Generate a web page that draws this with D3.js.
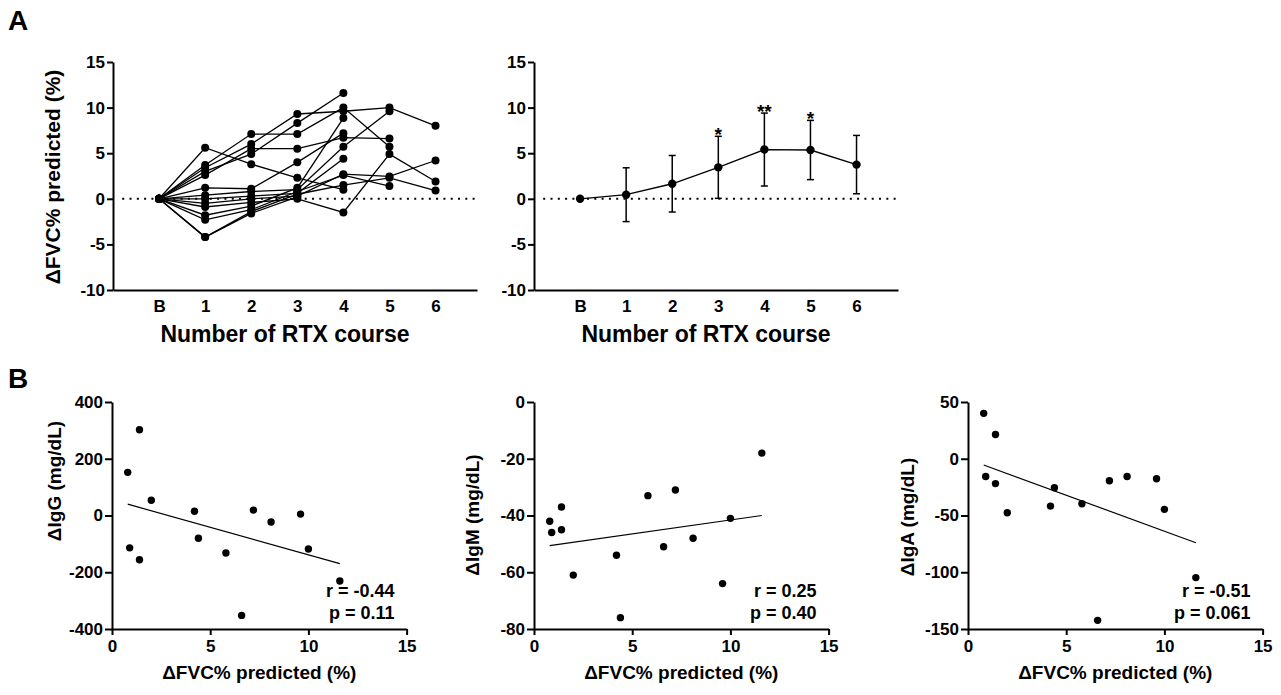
<!DOCTYPE html>
<html>
<head>
<meta charset="utf-8">
<script src="https://cdn.jsdelivr.net/npm/d3@7"></script>
<style>
  body { margin: 0; background: #fff; }
  svg text { font-family: "Liberation Sans", Arial, sans-serif; font-weight: bold; fill: #000; }
</style>
</head>
<body>
<svg id="fig" width="1281" height="695"></svg>
<script>
// ---- data ----
var courses = ["B", "1", "2", "3", "4", "5", "6"];
var yTicksA = [-10, -5, 0, 5, 10, 15];

// individual patients: change at B, course 1..6 (null = course not given)
var patients = [
  [0,  5.6,  3.8, 2.3,  1.0, null, null],
  [0,  3.7,  7.1, 7.1, 10.0,  5.7, null],
  [0,  3.4,  6.0, 9.3,  9.6, 10.0,  8.0],
  [0,  3.0,  4.9, 8.3, 11.6, null, null],
  [0,  2.6,  5.5, 5.5,  6.7,  6.6, null],
  [0,  1.2,  1.1, 4.0,  7.2, null, null],
  [0,  0.4,  0.8, 1.0,  5.7,  9.6, null],
  [0,  0.0,  0.3, 0.6,  4.4, null, null],
  [0, -0.5,  0.0, 0.3,  2.7,  2.45, 4.2],
  [0, -0.9, -0.4, 0.0, -1.5,  4.9,  1.9],
  [0, -1.8, -0.8, 1.2,  8.85, null, null],
  [0, -2.3, -1.2, 0.8,  2.6,  1.4, null],
  [0, -4.2, -1.4, 0.5,  1.5,  2.3,  0.9],
  [0, -4.2, -1.6, 0.2, null, null, null]
];

// group mean and SD per course
var meanChange = [0, 0.45, 1.65, 3.45, 5.4, 5.35, 3.75];
var sdChange   = [0, 2.95, 3.1, 3.4, 4.0, 3.25, 3.2];
var stars      = ["", "", "", "*", "**", "*", ""];

// panel B: change in FVC% predicted vs change in immunoglobulins
var dFVC = [0.8, 0.9, 1.4, 1.4, 2.0, 4.2, 4.4, 5.8, 6.6, 7.2, 8.1, 9.6, 10.0, 11.6];
var dIgG = [152, -114, 302, -156, 54, 15, -80, -132, -352, 19, -23, 5, -118, -231];
var dIgM = [-42, -46, -37, -45, -61, -54, -76, -33, -51, -31, -48, -64, -41, -18];
var dIgA = [40, -15.6, 21.3, -21.9, -47.6, -41.7, -25.6, -39.6, -142.4, -19.4, -15.6, -17.6, -44.6, -104.7];

var xTicksB = [0, 5, 10, 15];
var igPanels = [
  { title: "\u0394IgG (mg/dL)", values: dIgG, domain: [-400, 400], ticks: [-400, -200, 0, 200, 400], r: "r = -0.44", p: "p = 0.11" },
  { title: "\u0394IgM (mg/dL)", values: dIgM, domain: [-80, 0], ticks: [-80, -60, -40, -20, 0], r: "r = 0.25", p: "p = 0.40" },
  { title: "\u0394IgA (mg/dL)", values: dIgA, domain: [-150, 50], ticks: [-150, -100, -50, 0, 50], r: "r = -0.51", p: "p = 0.061" }
];

// ---- drawing ----
var svg = d3.select("#fig");
var FONT = '"Liberation Sans", Arial, sans-serif';
var plain = function(d) { return String(d); };   // hyphen minus, like the original

function fixAxis(g, size) {
  g.attr("font-family", FONT).attr("font-size", size).attr("font-weight", "bold");
  g.select(".domain").attr("stroke", "#000").attr("stroke-width", 2);
  g.selectAll(".tick line").attr("stroke", "#000").attr("stroke-width", 2);
  g.selectAll(".tick text").attr("fill", "#000");
}

// panel letters
svg.append("text").attr("x", 8).attr("y", 30).attr("font-size", 28).text("A");
svg.append("text").attr("x", 8).attr("y", 388).attr("font-size", 28).text("B");

function coursePanel(x0, drawData) {
  var x = d3.scaleLinear().domain([0, 7.9]).range([x0, x0 + 364]);
  var y = d3.scaleLinear().domain([-10, 15]).range([290, 62]);
  var g = svg.append("g");

  g.append("line")
    .attr("x1", x(0.2)).attr("x2", x(7.9))
    .attr("y1", y(0)).attr("y2", y(0))
    .attr("stroke", "#000").attr("stroke-width", 2)
    .attr("stroke-dasharray", "2,5.3");

  drawData(g, x, y);

  var ya = g.append("g").attr("transform", "translate(" + x0 + ",0)")
    .call(d3.axisLeft(y).tickValues(yTicksA).tickFormat(plain).tickSize(6).tickSizeOuter(0).tickPadding(2));
  fixAxis(ya, 17);

  var xa = g.append("g").attr("transform", "translate(0,290)")
    .call(d3.axisBottom(x)
      .tickValues(d3.range(1, courses.length + 1))
      .tickFormat(function(d) { return courses[d - 1]; })
      .tickSize(0).tickSizeOuter(0).tickPadding(10));
  fixAxis(xa, 17);

  g.append("text")
    .attr("x", x0 + 172).attr("y", 342)
    .attr("text-anchor", "middle").attr("font-size", 23)
    .text("Number of RTX course");
  return g;
}

// A left: individual trajectories
coursePanel(113, function(g, x, y) {
  var line = d3.line()
    .defined(function(d) { return d != null; })
    .x(function(d, i) { return x(i + 1); })
    .y(function(d) { return y(d); });

  g.selectAll("path.traj")
    .data(patients)
    .enter().append("path")
    .attr("class", "traj")
    .attr("fill", "none").attr("stroke", "#000").attr("stroke-width", 1.3)
    .attr("d", line);

  patients.forEach(function(p) {
    g.selectAll(null)
      .data(p.map(function(v, i) { return { i: i, v: v }; }).filter(function(d) { return d.v != null; }))
      .enter().append("circle")
      .attr("cx", function(d) { return x(d.i + 1); })
      .attr("cy", function(d) { return y(d.v); })
      .attr("r", 4)
      .attr("fill", "#000");
  });
});

svg.append("text")
  .attr("transform", "translate(60,177) rotate(-90)")
  .attr("text-anchor", "middle").attr("font-size", 21)
  .text("\u0394FVC% predicted (%)");

// A right: mean +/- SD
coursePanel(534, function(g, x, y) {
  var pts = meanChange.map(function(m, i) { return { i: i, m: m, sd: sdChange[i], star: stars[i] }; });

  var bars = pts.filter(function(d) { return d.sd > 0; });
  g.selectAll("line.err")
    .data(bars).enter().append("line")
    .attr("class", "err")
    .attr("x1", function(d) { return x(d.i + 1); })
    .attr("x2", function(d) { return x(d.i + 1); })
    .attr("y1", function(d) { return y(d.m - d.sd); })
    .attr("y2", function(d) { return y(d.m + d.sd); })
    .attr("stroke", "#000").attr("stroke-width", 1.5);

  [-1, 1].forEach(function(s) {
    g.selectAll(null)
      .data(bars).enter().append("line")
      .attr("x1", function(d) { return x(d.i + 1) - 3.5; })
      .attr("x2", function(d) { return x(d.i + 1) + 3.5; })
      .attr("y1", function(d) { return y(d.m + s * d.sd); })
      .attr("y2", function(d) { return y(d.m + s * d.sd); })
      .attr("stroke", "#000").attr("stroke-width", 1.5);
  });

  g.append("path")
    .datum(pts)
    .attr("fill", "none").attr("stroke", "#000").attr("stroke-width", 1.3)
    .attr("d", d3.line().x(function(d) { return x(d.i + 1); }).y(function(d) { return y(d.m); }));

  g.selectAll("circle.mean")
    .data(pts).enter().append("circle")
    .attr("class", "mean")
    .attr("cx", function(d) { return x(d.i + 1); })
    .attr("cy", function(d) { return y(d.m); })
    .attr("r", 4.2)
    .attr("fill", "#000");

  g.selectAll("text.star")
    .data(pts.filter(function(d) { return d.star; })).enter().append("text")
    .attr("class", "star")
    .attr("x", function(d) { return x(d.i + 1); })
    .attr("y", function(d) { return y(d.m + d.sd) + 5; })
    .attr("text-anchor", "middle").attr("font-size", 19)
    .text(function(d) { return d.star; });
});

// B: scatter panels with least-squares line
var bLeft = [112, 534, 968];
var bTop = 402, bBottom = 629, bWidth = 294.6;
var yTitleX = [61, 479, 914];
var yTitleY = [481, 515, 517];

igPanels.forEach(function(pan, k) {
  var x0 = bLeft[k];
  var x = d3.scaleLinear().domain([0, 15]).range([x0, x0 + bWidth]);
  var y = d3.scaleLinear().domain(pan.domain).range([bBottom, bTop]);
  var g = svg.append("g");

  var pts = dFVC.map(function(v, i) { return { x: v, y: pan.values[i] }; });
  var mx = d3.mean(pts, function(d) { return d.x; });
  var my = d3.mean(pts, function(d) { return d.y; });
  var sxy = d3.sum(pts, function(d) { return (d.x - mx) * (d.y - my); });
  var sxx = d3.sum(pts, function(d) { return (d.x - mx) * (d.x - mx); });
  var slope = sxy / sxx, icpt = my - slope * mx;
  var ext = d3.extent(pts, function(d) { return d.x; });

  g.append("line")
    .attr("x1", x(ext[0])).attr("y1", y(icpt + slope * ext[0]))
    .attr("x2", x(ext[1])).attr("y2", y(icpt + slope * ext[1]))
    .attr("stroke", "#000").attr("stroke-width", 1.2);

  g.selectAll("circle")
    .data(pts).enter().append("circle")
    .attr("cx", function(d) { return x(d.x); })
    .attr("cy", function(d) { return y(d.y); })
    .attr("r", 3.7)
    .attr("fill", "#000");

  var ya = g.append("g").attr("transform", "translate(" + x0 + ",0)")
    .call(d3.axisLeft(y).tickValues(pan.ticks).tickFormat(plain).tickSize(7).tickSizeOuter(0).tickPadding(2));
  fixAxis(ya, 17);

  var xa = g.append("g").attr("transform", "translate(0," + bBottom + ")")
    .call(d3.axisBottom(x).tickValues(xTicksB).tickFormat(plain).tickSize(6).tickSizeOuter(0).tickPadding(5));
  fixAxis(xa, 17);

  g.append("text")
    .attr("x", x0 + bWidth / 2).attr("y", 679)
    .attr("text-anchor", "middle").attr("font-size", 19)
    .text("\u0394FVC% predicted (%)");

  g.append("text")
    .attr("transform", "translate(" + yTitleX[k] + "," + yTitleY[k] + ") rotate(-90)")
    .attr("text-anchor", "middle").attr("font-size", 19)
    .text(pan.title);

  g.append("text").attr("x", x0 + bWidth - 12).attr("y", 597)
    .attr("text-anchor", "end").attr("font-size", 18).text(pan.r);
  g.append("text").attr("x", x0 + bWidth - 12).attr("y", 619)
    .attr("text-anchor", "end").attr("font-size", 18).text(pan.p);
});
</script>
</body>
</html>
